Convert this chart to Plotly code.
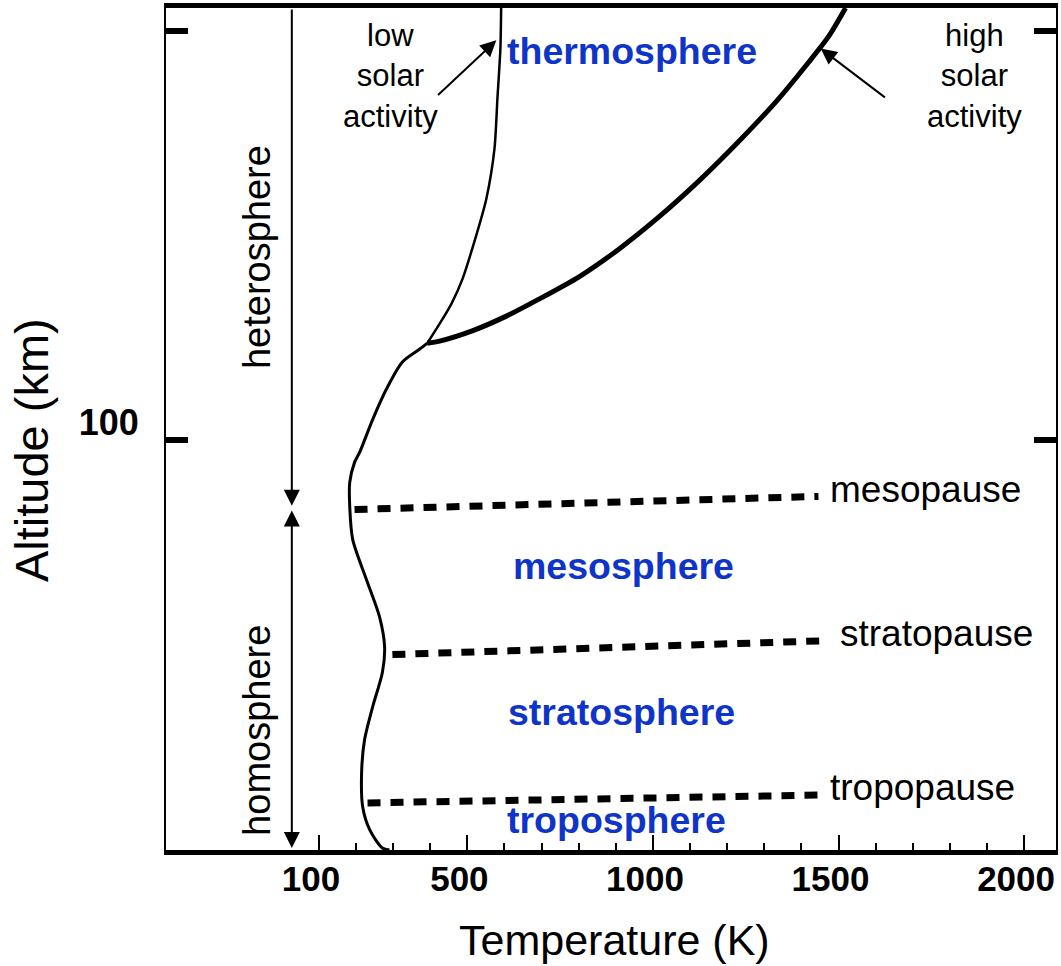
import plotly.graph_objects as go

# Mean temperature profile of the atmosphere (temperature in K, altitude in km)
profile_T = [290, 271, 237, 218, 215, 223, 245, 271, 277, 263, 228, 191, 183, 183, 196, 210, 245, 282, 325, 371, 392]
profile_z = [0.0, 0.5, 4.9, 10.5, 18.8, 26.9, 35.0, 43.3, 49.6, 57.0, 66.0, 75.8, 83.9, 89.7, 94.6, 97.1, 105.1, 112.5, 119.1, 122.2, 123.7]

# Thermosphere branch for low solar activity
low_T = [392, 425, 457, 487, 513, 551, 573, 581, 589, 591]
low_z = [123.7, 128.4, 133.3, 139.4, 146.7, 158.9, 171.1, 183.4, 195.6, 205.5]

# Thermosphere branch for high solar activity
high_T = [392, 425, 513, 605, 694, 801, 909, 1016, 1124, 1231, 1339, 1419, 1473, 1519]
high_z = [123.7, 124.2, 126.7, 130.3, 134.5, 139.9, 146.7, 154.5, 163.3, 172.9, 183.4, 192.2, 198.5, 205.5]

# Boundary layers: start/end temperature and altitude of each dashed line
pause_names = ["mesopause", "stratopause", "tropopause"]
pause_T0 = [196, 298, 231]
pause_T1 = [1446, 1473, 1446]
pause_z0 = [83.1, 47.7, 11.5]
pause_z1 = [86.3, 51.1, 13.4]

# Layer names
layer_names = ["thermosphere", "mesosphere", "stratosphere", "troposphere"]
layer_T = [944, 922, 914, 901]
layer_z = [195.1, 69.2, 33.7, 7.3]

homopause_km = 84
top_km = 205.5
split_T = 27  # position of the homosphere/heterosphere arrows

x_ticks = [100, 500, 1000, 1500, 2000]
x_minor = list(range(100, 2100, 100))
y_ticks = [100, 200]
y_ticktext = ["100", ""]

FONT = "Liberation Sans, Arial, Helvetica, sans-serif"
BLUE = "#0f35c8"

fig = go.Figure()

fig.add_trace(go.Scatter(x=profile_T, y=profile_z, mode="lines",
                         line=dict(color="black", width=3, shape="spline", smoothing=0.8),
                         hoverinfo="skip"))
fig.add_trace(go.Scatter(x=low_T, y=low_z, mode="lines",
                         line=dict(color="black", width=2.5, shape="spline", smoothing=0.7),
                         hoverinfo="skip"))
fig.add_trace(go.Scatter(x=high_T, y=high_z, mode="lines",
                         line=dict(color="black", width=5, shape="spline", smoothing=0.7),
                         hoverinfo="skip"))

for t0, t1, z0, z1 in zip(pause_T0, pause_T1, pause_z0, pause_z1):
    fig.add_trace(go.Scatter(x=[t0, t1], y=[z0, z1], mode="lines",
                             line=dict(color="black", width=7, dash="13px,10px"),
                             hoverinfo="skip"))

annotations = []

# pause labels at the right end of each dashed line
for name, t1, z1 in zip(pause_names, pause_T1, pause_z1):
    annotations.append(dict(x=t1 + 25, y=z1 + 1.8, text=name, showarrow=False,
                            xanchor="left", yanchor="middle",
                            font=dict(family=FONT, size=37, color="black")))

for name, t, z in zip(layer_names, layer_T, layer_z):
    annotations.append(dict(x=t, y=z, text="<b>" + name + "</b>", showarrow=False,
                            xanchor="center", yanchor="middle",
                            font=dict(family=FONT, size=37.5, color=BLUE)))

# solar activity labels with arrows to the branches
annotations.append(dict(x=292, y=188.8, text="low<br>solar<br>activity", showarrow=False,
                        font=dict(family=FONT, size=31, color="black")))
annotations.append(dict(x=1866, y=188.8, text="high<br>solar<br>activity", showarrow=False,
                        font=dict(family=FONT, size=31, color="black")))
annotations.append(dict(x=578, y=197.6, ax=417, ay=183.9, axref="x", ayref="y",
                        text="", showarrow=True, arrowhead=2, arrowsize=1.6, arrowwidth=2,
                        arrowcolor="black"))
annotations.append(dict(x=1452, y=195.6, ax=1629, ay=183.4, axref="x", ayref="y",
                        text="", showarrow=True, arrowhead=2, arrowsize=1.6, arrowwidth=2,
                        arrowcolor="black"))

# heterosphere / homosphere arrows
annotations.append(dict(x=split_T, y=homopause_km, ax=split_T, ay=top_km, axref="x", ayref="y",
                        text="", showarrow=True, arrowhead=2, arrowsize=1.6, arrowwidth=2,
                        arrowcolor="black"))
annotations.append(dict(x=split_T, y=0.5, ax=split_T, ay=homopause_km - 0.8, axref="x", ayref="y",
                        text="", showarrow=True, arrowhead=2, startarrowhead=2, arrowside="end+start",
                        arrowsize=1.6, startarrowsize=1.6, arrowwidth=2, arrowcolor="black"))
annotations.append(dict(x=-67, y=144.7, text="heterosphere", textangle=-90, showarrow=False,
                        font=dict(family=FONT, size=38, color="black")))
annotations.append(dict(x=-67, y=29.3, text="homosphere", textangle=-90, showarrow=False,
                        font=dict(family=FONT, size=38, color="black")))

# axis titles
annotations.append(dict(xref="paper", yref="paper", x=0.5034, y=-0.1068, text="Temperature (K)",
                        showarrow=False, xanchor="center", yanchor="middle",
                        font=dict(family=FONT, size=43, color="black")))
annotations.append(dict(xref="paper", yref="paper", x=-0.151, y=0.4745, text="Altitude (km)",
                        textangle=-90, showarrow=False, xanchor="center", yanchor="middle",
                        font=dict(family=FONT, size=47, color="black")))

fig.update_layout(
    width=1061, height=966,
    margin=dict(l=166, r=3, t=7, b=116),
    paper_bgcolor="white", plot_bgcolor="white",
    showlegend=False,
    annotations=annotations,
    font=dict(family=FONT, color="black"),
)

fig.update_xaxes(
    range=[-312, 2086], showgrid=False, zeroline=False,
    showline=True, linewidth=5, linecolor="black", mirror=True,
    tickmode="array", tickvals=x_ticks, ticktext=[str(v) for v in x_ticks],
    ticks="inside", ticklen=15, tickwidth=2, tickcolor="black",
    minor=dict(tickmode="array", tickvals=x_minor, ticks="inside", ticklen=7,
               tickwidth=2, tickcolor="black"),
    tickfont=dict(family=FONT, size=35, color="black", weight="bold"),
    ticklabelstandoff=-6, ticklabelshift=-8,
)
fig.update_yaxes(
    range=[0, top_km], showgrid=False, zeroline=False,
    showline=True, linewidth=2, linecolor="black", mirror="ticks",
    tickmode="array", tickvals=y_ticks, ticktext=y_ticktext,
    ticks="inside", ticklen=22, tickwidth=6, tickcolor="black",
    tickfont=dict(family=FONT, size=36, color="black", weight="bold"),
    ticklabelstandoff=18, ticklabelshift=-18,
)

fig.write_html("out.html")
